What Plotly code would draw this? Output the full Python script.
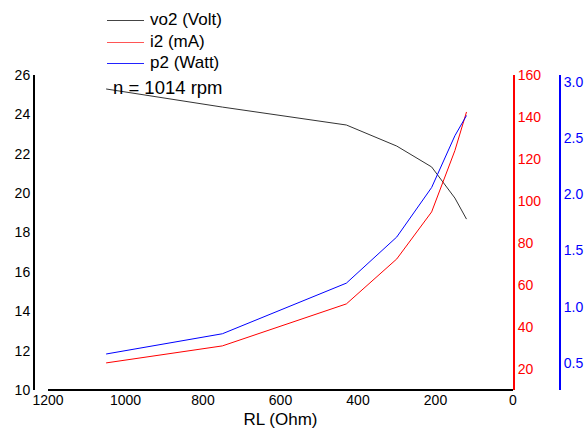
import plotly.graph_objects as go

RL = [1050, 750, 430, 300, 210, 150, 120]
vo2 = [25.29, 24.37, 23.46, 22.39, 21.33, 19.75, 18.68]
i2 = [22.9, 31.0, 51.0, 72.4, 94.8, 124.0, 142.4]
p2 = [0.58, 0.76, 1.21, 1.62, 2.06, 2.52, 2.70]

series_names = ["vo2 (Volt)", "i2 (mA)", "p2 (Watt)"]
series_colors = ["#333333", "#ff0000", "#0000ff"]
legend_colors = ["#444444", "#ff5555", "#2222ff"]

W, H = 585, 430
T, B = 75, 40
PH = H - T - B
FONT = "Liberation Sans, Arial, sans-serif"


def py(pix):
    return 1 - (pix - T) / PH


fig = go.Figure()
for data, name, col, ax in zip([vo2, i2, p2], series_names, series_colors, ["y", "y2", "y3"]):
    fig.add_trace(go.Scatter(x=RL, y=data, mode="lines", name=name,
                             line=dict(color=col, width=1), yaxis=ax))

shapes = [dict(type="line", xref="paper", yref="paper", x0=48 / W, x1=513 / W,
               y0=0, y1=0, line=dict(color="black", width=2), layer="below")]
annotations = []
for yc, name, col in zip([20, 42, 63], series_names, legend_colors):
    shapes.append(dict(type="line", xref="paper", yref="paper",
                       x0=107 / W, x1=144 / W, y0=py(yc + 0.5), y1=py(yc + 0.5),
                       line=dict(color=col, width=1.2)))
    annotations.append(dict(text=name, xref="paper", yref="paper",
                            x=148 / W, y=py(yc), xanchor="left", yanchor="middle",
                            showarrow=False, font=dict(size=17, family=FONT, color="black")))
annotations.append(dict(text="n = 1014 rpm", xref="paper", yref="paper",
                        x=111 / W, y=py(88), xanchor="left", yanchor="middle",
                        showarrow=False, font=dict(size=18.5, family=FONT, color="black")))

fig.update_layout(
    width=W, height=H,
    margin=dict(l=0, r=0, t=T, b=B, autoexpand=False),
    paper_bgcolor="white", plot_bgcolor="white",
    font=dict(family=FONT, size=14, color="black"),
    showlegend=False,
    xaxis=dict(domain=[48 / W, 513 / W], range=[1200, 0], dtick=200,
               showline=False, ticks="",
               showgrid=False, zeroline=False, automargin=False,
               title=dict(text="RL (Ohm)", font=dict(size=17), standoff=6),
               tickfont=dict(size=14)),
    yaxis=dict(range=[10, 26], dtick=2, anchor="free", position=34 / W,
               showline=True, linecolor="black", linewidth=2, ticks="",
               showgrid=False, zeroline=False, automargin=False,
               tickfont=dict(size=14, color="black")),
    yaxis2=dict(range=[10, 160], tickvals=[20, 40, 60, 80, 100, 120, 140, 160],
                overlaying="y", side="right", anchor="x",
                showline=True, linecolor="#ff0000", linewidth=2, ticks="",
                showgrid=False, zeroline=False, automargin=False,
                tickfont=dict(size=14, color="#ff0000")),
    yaxis3=dict(range=[0.26, 3.06], tickvals=[0.5, 1.0, 1.5, 2.0, 2.5, 3.0],
                tickformat=".1f", overlaying="y", side="right", anchor="free",
                position=560 / W,
                showline=True, linecolor="#0000ff", linewidth=2, ticks="",
                showgrid=False, zeroline=False, automargin=False,
                tickfont=dict(size=14, color="#0000ff")),
    shapes=shapes,
    annotations=annotations,
)

fig.write_html("out.html")
